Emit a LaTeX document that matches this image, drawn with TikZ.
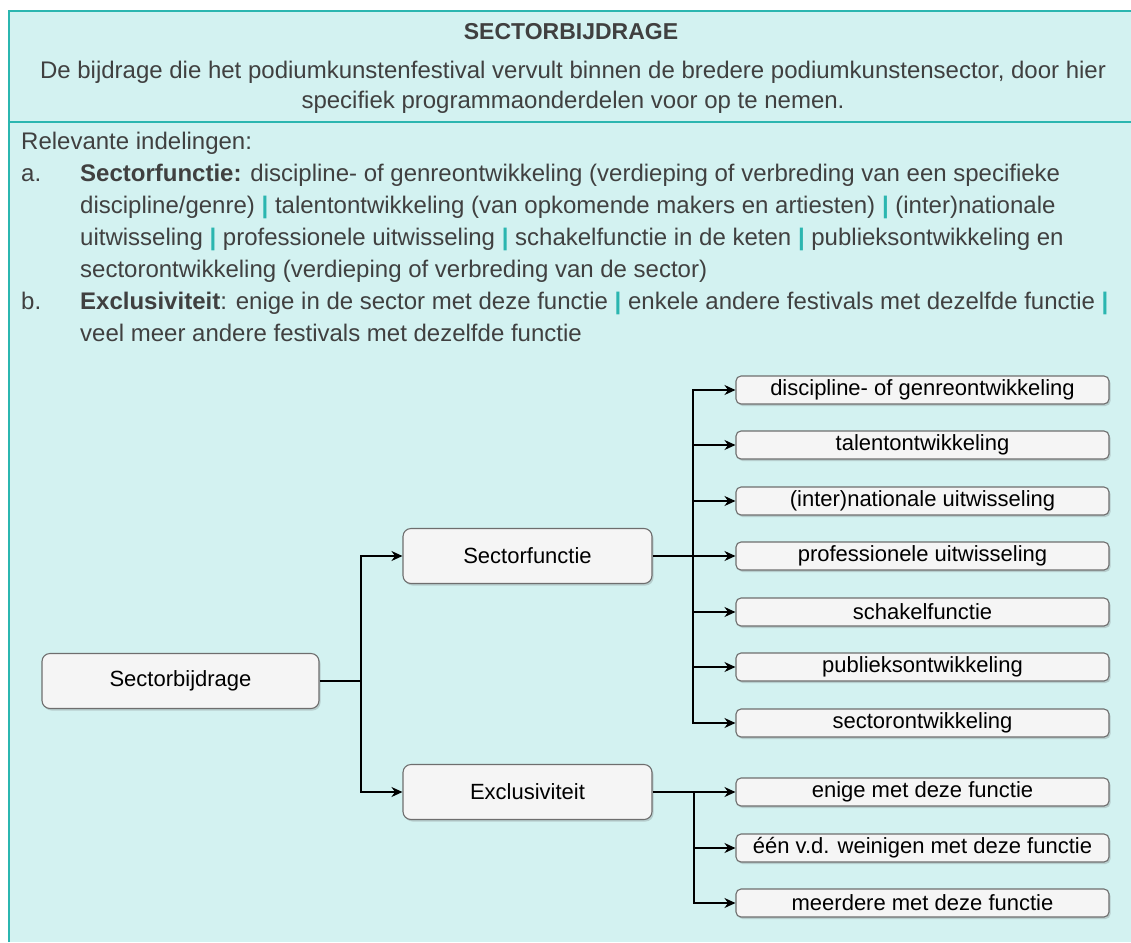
\documentclass[tikz,border=0pt]{standalone}
\usepackage{fontspec}
\setmainfont{Liberation Sans}
\usetikzlibrary{arrows.meta,shadows}
\definecolor{bgc}{HTML}{D3F2F1}
\definecolor{tealc}{HTML}{2BB6B0}
\definecolor{txtc}{HTML}{404040}
\definecolor{nfill}{HTML}{F5F5F5}
\definecolor{ndraw}{HTML}{6E6E6E}
\newcommand{\tsep}{\textcolor{tealc}{\textbf{|}}}
\begin{document}
\begin{tikzpicture}[x=1pt,y=-1pt,
  txtline/.style={anchor=base west,inner sep=0pt,text=txtc,font=\fontsize{24}{28}\selectfont},
  ctrline/.style={anchor=base,inner sep=0pt,text=txtc,font=\fontsize{24}{28}\selectfont},
  boxbase/.style={draw=ndraw,fill=nfill,line width=1.1pt,text=black,inner sep=0pt,
    drop shadow={shadow xshift=1.5pt,shadow yshift=-2pt,opacity=0.25,fill=black!60}},
  mainbox/.style={boxbase,rounded corners=8pt,minimum height=55pt,font=\fontsize{22}{26}\selectfont},
  leafbox/.style={boxbase,rounded corners=5pt,minimum width=373pt,minimum height=28pt,font=\fontsize{22}{26}\selectfont},
  conn/.style={line width=1.5pt,draw=black},
  arr/.style={conn,-{Stealth[length=11pt,width=10pt]}}]
\useasboundingbox (0,0) rectangle (1131,942);
% panel
\fill[bgc] (9,11) rectangle (1131,942);
\draw[tealc,line width=2pt] (9,942) -- (9,11) -- (1131,11);
\draw[tealc,line width=1.5pt] (9,122) -- (1131,122);
% header
\node[ctrline,font=\fontsize{23}{28}\selectfont\bfseries] (title) at (571,40) {SECTORBIJDRAGE};
\node[ctrline] (h1) at (573,78) {De bijdrage die het podiumkunstenfestival vervult binnen de bredere podiumkunstensector, door hier};
\node[ctrline] (h2) at (573,108) {specifiek programmaonderdelen voor op te nemen.};
% body
\node[txtline] (l0) at (21,149) {Relevante indelingen:};
\node[txtline] (la) at (21,181) {a.};
\node[txtline] (l1) at (80,181) {\textbf{Sectorfunctie:} discipline- of genreontwikkeling (verdieping of verbreding van een specifieke};
\node[txtline] (l2) at (80,213) {discipline/genre) \tsep{} talentontwikkeling (van opkomende makers en artiesten) \tsep{} (inter)nationale};
\node[txtline] (l3) at (80,245) {uitwisseling \tsep{} professionele uitwisseling \tsep{} schakelfunctie in de keten \tsep{} publieksontwikkeling en};
\node[txtline] (l4) at (80,277) {sectorontwikkeling (verdieping of verbreding van de sector)};
\node[txtline] (lb) at (21,309) {b.};
\node[txtline] (l5) at (80,309) {\textbf{Exclusiviteit}: enige in de sector met deze functie \tsep{} enkele andere festivals met dezelfde functie \tsep};
\node[txtline] (l6) at (80,341) {veel meer andere festivals met dezelfde functie};
% diagram nodes
\node[mainbox,minimum width=277pt] (sb) at (180.5,681) {Sectorbijdrage};
\node[mainbox,minimum width=249pt] (sf) at (527.5,556) {Sectorfunctie};
\node[mainbox,minimum width=249pt] (ex) at (527.5,792) {Exclusiviteit};
\node[leafbox] (f1) at (922.5,390) {discipline- of genreontwikkeling};
\node[leafbox] (f2) at (922.5,445) {talentontwikkeling};
\node[leafbox] (f3) at (922.5,501) {(inter)nationale uitwisseling};
\node[leafbox] (f4) at (922.5,556) {professionele uitwisseling};
\node[leafbox] (f5) at (922.5,612) {schakelfunctie};
\node[leafbox] (f6) at (922.5,667) {publieksontwikkeling};
\node[leafbox] (f7) at (922.5,723) {sectorontwikkeling};
\node[leafbox] (e1) at (922.5,792) {enige met deze functie};
\node[leafbox] (e2) at (922.5,848) {één v.d. weinigen met deze functie};
\node[leafbox] (e3) at (922.5,903) {meerdere met deze functie};
% junctions
\coordinate (j1) at (361,681);
\coordinate (j2) at (693,556);
\coordinate (j3) at (694,792);
% connectors
\draw[conn] (sb.east) -- (j1);
\draw[arr] (j1) |- (sf.west);
\draw[arr] (j1) |- (ex.west);
\draw[conn] (sf.east) -- (j2);
\foreach \n in {f1,f2,f3,f4,f5,f6,f7} {\draw[arr] (j2) |- (\n.west);}
\draw[arr] (ex.east) -- (e1.west);
\draw[arr] (j3) |- (e2.west);
\draw[arr] (j3) |- (e3.west);
\end{tikzpicture}
\end{document}
